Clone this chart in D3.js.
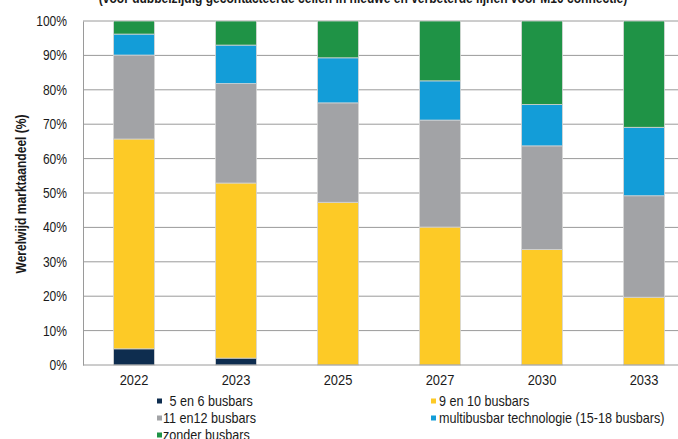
<!DOCTYPE html>
<html>
<head>
<meta charset="utf-8">
<script src="https://cdn.jsdelivr.net/npm/d3@7"></script>
<style>
  html, body { margin: 0; padding: 0; background: #fff; }
  svg { display: block; }
  text { font-family: "Liberation Sans", Arial, sans-serif; fill: #1a1a1a; }
</style>
</head>
<body>
<svg id="chart" width="678" height="439"></svg>
<script>
// Years on the x axis
const years = ["2022", "2023", "2025", "2027", "2030", "2033"];

// Market share per busbar technology (%)
const busbars5to6   = [4.7, 2.0, 0, 0, 0, 0];
const busbars9to10  = [61.0, 50.9, 47.3, 40.1, 33.6, 19.7];
const busbars11to12 = [24.4, 28.9, 28.9, 31.1, 30.1, 29.5];
const multibusbar   = [6.1, 11.2, 13.1, 11.4, 12.0, 19.9];
const noBusbars     = [3.8, 7.0, 10.7, 17.4, 24.3, 30.9];

const seriesNames = [
  " 5 en 6 busbars",
  "9 en 10 busbars",
  "11 en12 busbars",
  "multibusbar technologie (15-18 busbars)",
  "zonder busbars"
];
const seriesColors = ["#0e2d4f", "#fdca26", "#a2a3a6", "#139dd8", "#1f9346"];
const yTicks = [0, 10, 20, 30, 40, 50, 60, 70, 80, 90, 100];

const subtitle = "(voor dubbelzijdig gecontacteerde cellen in nieuwe en verbeterde lijnen voor M10 connectie)";
const yTitle = "Werelwijd marktaandeel (%)";

const svg = d3.select("#chart");

const plot = { left: 83, right: 695, top: 21, bottom: 365 };

// Narrow the glyphs horizontally to get a condensed typeface look
function condense(sel, factor) {
  sel.each(function () {
    const w = this.getComputedTextLength();
    d3.select(this).attr("textLength", w * factor).attr("lengthAdjust", "spacingAndGlyphs");
  });
}

const keys = ["s0", "s1", "s2", "s3", "s4"];
const allSeries = [busbars5to6, busbars9to10, busbars11to12, multibusbar, noBusbars];
const rows = years.map((yr, i) => {
  const r = { year: yr };
  keys.forEach((k, j) => { r[k] = allSeries[j][i]; });
  return r;
});
const stacked = d3.stack().keys(keys)(rows);

const x = d3.scaleBand().domain(years)
  .range([plot.left, plot.right])
  .paddingInner(0.6).paddingOuter(0.3);
const y = d3.scaleLinear().domain([0, 100]).range([plot.bottom, plot.top]);

// Subtitle (partly above the canvas edge)
svg.append("text")
  .attr("x", 363).attr("y", 3)
  .attr("text-anchor", "middle")
  .style("font-size", "14px").style("font-weight", "bold")
  .text(subtitle)
  .call(condense, 0.86);

// Horizontal gridlines
svg.append("g")
  .selectAll("line")
  .data(yTicks.filter(t => t > 0))
  .join("line")
  .attr("x1", plot.left).attr("x2", plot.right)
  .attr("y1", d => y(d)).attr("y2", d => y(d))
  .attr("stroke", "#9a9a9a").attr("stroke-width", 1);

// Y axis
const yAxis = svg.append("g")
  .attr("transform", `translate(${plot.left},0)`)
  .call(d3.axisLeft(y).tickValues(yTicks).tickFormat(d => d + "%").tickSize(0).tickPadding(16));
yAxis.select(".domain").attr("stroke", "#9a9a9a");
yAxis.selectAll("text").style("font-size", "14px").attr("fill", "#1a1a1a")
  .style("font-family", '"Liberation Sans", Arial, sans-serif')
  .call(condense, 0.86);

// Bars
svg.append("g")
  .selectAll("g")
  .data(stacked)
  .join("g")
  .attr("fill", (d, i) => seriesColors[i])
  .selectAll("rect")
  .data(d => d.filter(p => p[1] - p[0] > 0))
  .join("rect")
  .attr("x", d => x(d.data.year))
  .attr("width", x.bandwidth())
  .attr("y", d => y(d[1]))
  .attr("height", d => y(d[0]) - y(d[1]))
  .attr("stroke", "#d4d4d4").attr("stroke-width", 0.8);

// Baseline
svg.append("line")
  .attr("x1", plot.left).attr("x2", plot.right)
  .attr("y1", plot.bottom).attr("y2", plot.bottom)
  .attr("stroke", "#9a9a9a").attr("stroke-width", 1);

// X axis labels
const xAxis = svg.append("g")
  .attr("transform", `translate(0,${plot.bottom})`)
  .call(d3.axisBottom(x).tickSize(0).tickPadding(9));
xAxis.select(".domain").remove();
xAxis.selectAll("text").style("font-size", "15px").attr("fill", "#1a1a1a")
  .style("font-family", '"Liberation Sans", Arial, sans-serif')
  .call(condense, 0.86);

// Y axis title
svg.append("text")
  .attr("transform", "translate(26,194) rotate(-90)")
  .attr("text-anchor", "middle")
  .style("font-size", "14px").style("font-weight", "bold")
  .text(yTitle)
  .call(condense, 0.86);

// Legend
const legendPos = [
  { x: 157, y: 401, tx: 166 },
  { x: 431, y: 401, tx: 439 },
  { x: 157, y: 418, tx: 163 },
  { x: 431, y: 418, tx: 439 },
  { x: 157, y: 435, tx: 163 }
];
const legend = svg.append("g")
  .selectAll("g")
  .data(seriesNames)
  .join("g");
legend.append("rect")
  .attr("x", (d, i) => legendPos[i].x)
  .attr("y", (d, i) => legendPos[i].y - 2.5)
  .attr("width", 5).attr("height", 5)
  .attr("fill", (d, i) => seriesColors[i]);
legend.append("text")
  .attr("x", (d, i) => legendPos[i].tx)
  .attr("y", (d, i) => legendPos[i].y)
  .attr("dy", "0.35em")
  .style("font-size", "15px")
  .attr("xml:space", "preserve")
  .style("white-space", "pre")
  .text(d => d)
  .call(condense, 0.84);
</script>
</body>
</html>
